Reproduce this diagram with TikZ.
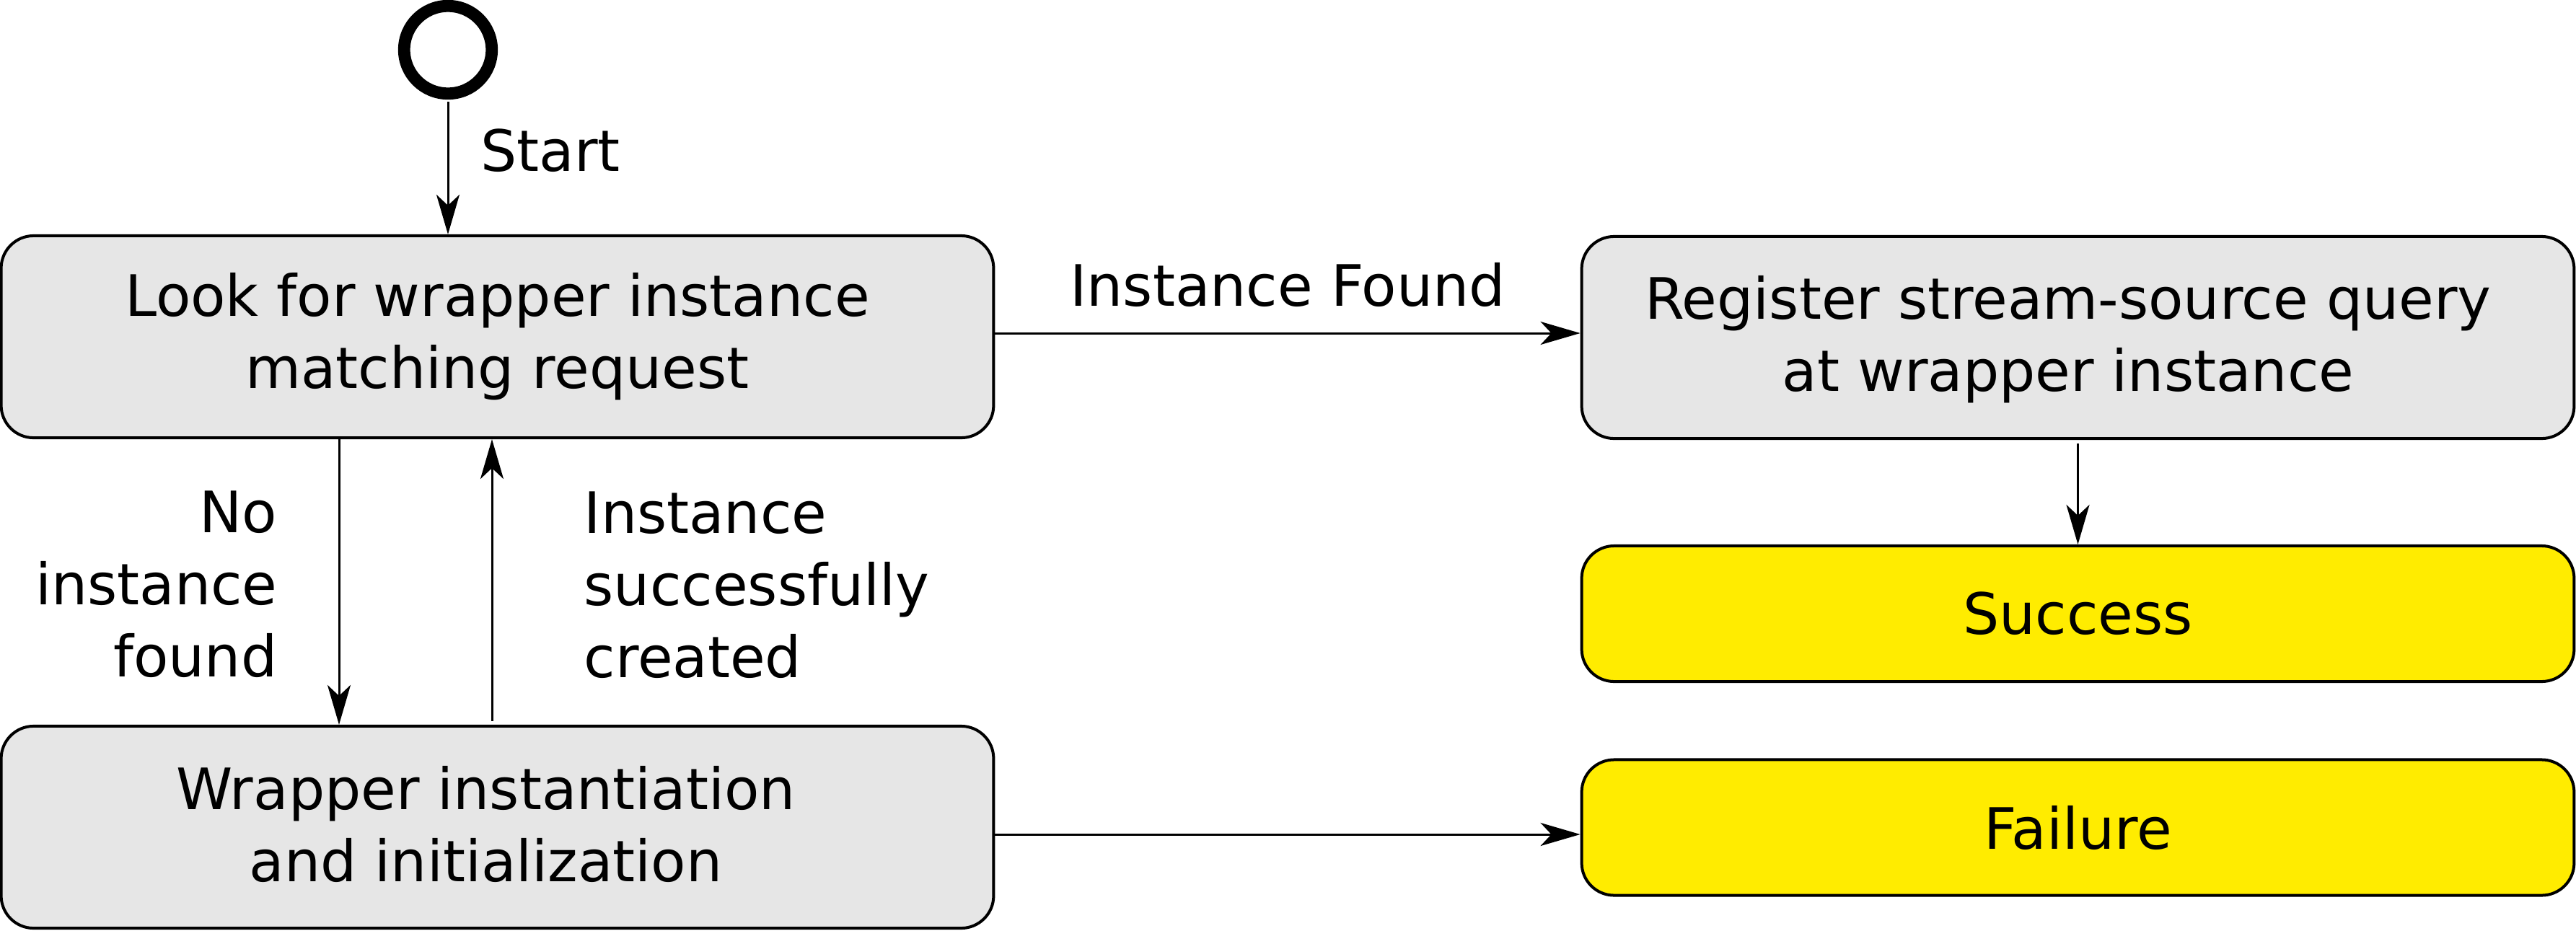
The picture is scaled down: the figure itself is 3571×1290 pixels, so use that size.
\documentclass[tikz,border=0pt]{standalone}
\usepackage{fontspec}
\setmainfont{DejaVu Sans}
\usetikzlibrary{arrows.meta}

\definecolor{StateGray}{HTML}{E6E6E6}
\definecolor{EndYellow}{HTML}{FFEC00}

\tikzset{
  initial/.style={circle, draw, line width=0.168cm, minimum size=1.214cm, inner sep=0pt},
  state/.style={draw, line width=0.04cm, rounded corners=0.45cm, fill=StateGray,
    minimum width=13.75cm, minimum height=2.8cm, align=center, inner sep=0pt},
  final/.style={state, fill=EndYellow, minimum height=1.88cm},
  trans/.style={line width=0.03cm, -{Stealth[length=0.55cm, width=0.32cm, inset=0.15cm]}},
  tlabel/.style={inner sep=0pt},
}

\begin{document}
\begin{tikzpicture}[x={(0.01cm,0cm)}, y={(0cm,-0.01cm)}, font=\fontsize{22.5}{28.45}\selectfont]

 \useasboundingbox (0,0) rectangle (3571,1290);

 %%%%%%%%%% Points to work with %%%%%%%%%%
 \coordinate (nofound) at (470,0);
 \coordinate (created) at (682,0);

 %%%%%%%%%% States %%%%%%%%%%
 \node [initial] (start) at (621,69) {};
 \node [state] (look) at (689.5,467) {Look for wrapper instance\\matching request};
 \node [state] (reg) at (2880.5,468) {};
 \node [final] (succ) at (2880.5,851) {Success};
 \node [state] (wrap) at (689.5,1147) {};
 \node [final] (fail) at (2880.5,1147.5) {Failure};

 %%%%%%%%%% State texts set off centre %%%%%%%%%%
 \node [tlabel, align=center] (regtext) at (2867,471) {Register stream-source query\\at wrapper instance};
 \node [tlabel, align=center] (wraptext) at (673.5,1143) {Wrapper instantiation\\and initialization};

 %%%%%%%%%% Transitions %%%%%%%%%%
 \draw [trans] ([yshift=-0.03cm]start.south) -- (start.south |- look.north);
 \draw [trans] ([yshift=0.05cm]look.east) -- ([yshift=0.05cm]look.east -| reg.west)
   node [midway, above=0.35cm, tlabel] (foundlbl) {Instance Found};
 \draw [trans] ([yshift=-0.05cm]reg.south) -- (succ.north);
 \draw [trans] (nofound |- look.south) -- (nofound |- wrap.north);
 \draw [trans] ([yshift=0.05cm]created |- wrap.north) -- (created |- look.south);
 \draw [trans] ([yshift=-0.1cm]wrap.east) -- ([yshift=-0.1cm]wrap.east -| fail.west);

 %%%%%%%%%% Labels %%%%%%%%%%
 \node [tlabel, anchor=base west] (startlbl) at (666,237) {Start};
 \node [tlabel, anchor=north east, align=right] (nolbl) at (385,680) {No\\instance\\found};
 \node [tlabel, anchor=north west, align=left] (createdlbl) at (809,681) {Instance\\successfully\\created};

\end{tikzpicture}
\end{document}
